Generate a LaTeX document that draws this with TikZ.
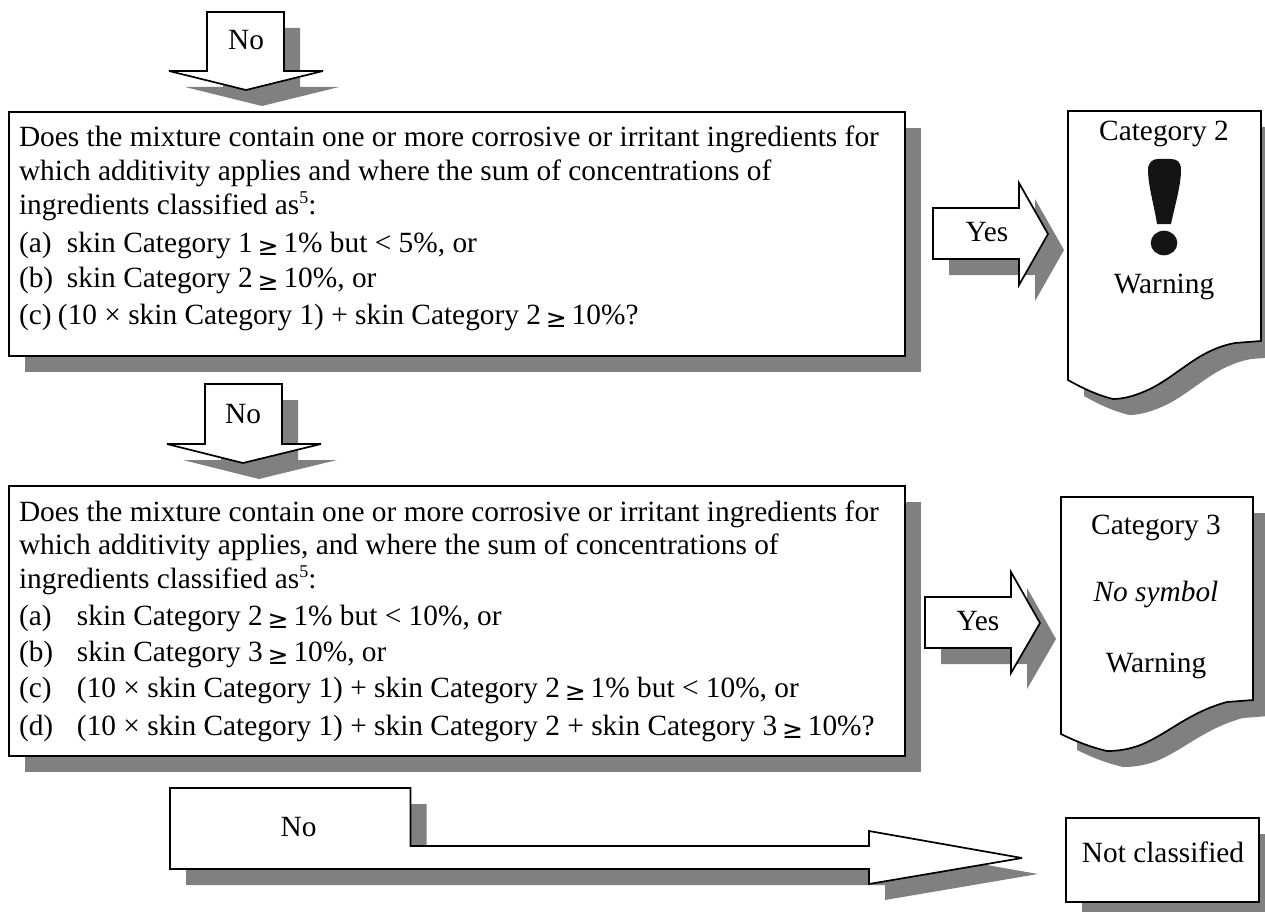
\documentclass[tikz,border=0pt]{standalone}
\usepackage{fontspec}
\setmainfont{Liberation Serif}
\newfontfamily\symfont{DejaVu Sans}
\definecolor{shadegray}{RGB}{128,128,128}
\definecolor{inkdark}{RGB}{20,20,20}
\newcommand{\castshape}[1]{\fill[castfill,shift={(16,16)}] #1; \filldraw[outlined] #1;}
\newcommand{\supfive}{\raisebox{10.5pt}{\fontsize{18pt}{18pt}\selectfont 5}}
\newcommand{\gesign}{\makebox[16pt]{\raisebox{-3pt}{\symfont\fontsize{25pt}{25pt}\selectfont ≥}}}
\tikzset{
  castfill/.style={fill=shadegray,draw=none},
  outlined/.style={draw=black,fill=white,line width=1.7pt,line join=miter,miter limit=4},
  lbl/.style={inner sep=0pt,outer sep=0pt,anchor=base,text=black,font=\fontsize{29.35pt}{29.35pt}\selectfont},
  linetext/.style={lbl,anchor=base west}
}
\begin{document}
\begin{tikzpicture}[x=1pt,y=-1pt]
\useasboundingbox (0,0) rectangle (1265,912);
\fill[white] (0,0) rectangle (1265,912);
% first No arrow
\castshape{(207,12) -- (284,12) -- (284,71) -- (323,71) -- (246,90) -- (169,71) -- (207,71) -- cycle}
\node[lbl] (no1) at (246,50) {No};
% box 1
\castshape{(9,112) rectangle (905,356)}
\node[linetext] (b1l1) at (19,147) {Does the mixture contain one or more corrosive or irritant ingredients for};
\node[linetext] (b1l2) at (19,181) {which additivity applies and where the sum of concentrations of};
\node[linetext] (b1l3) at (19,214) {ingredients classified as\supfive:};
\node[linetext] (b1l4) at (19,252) {\makebox[48pt][l]{(a)}skin Category 1 \gesign{} 1\% but < 5\%, or};
\node[linetext] (b1l5) at (19,287) {\makebox[48pt][l]{(b)}skin Category 2 \gesign{} 10\%, or};
\node[linetext] (b1l6) at (19,324) {\makebox[39pt][l]{(c)}(10 × skin Category 1) + skin Category 2 \gesign{} 10\%?};
% Yes arrow 1
\castshape{(933,208) -- (1019,208) -- (1019,183) -- (1048,234) -- (1019,285) -- (1019,259) -- (933,259) -- cycle}
\node[lbl] (yes1) at (987,241) {Yes};
% category 2 document
\castshape{(1068,111) -- (1261,111) -- (1261,341) -- (1235,343) .. controls (1198,350) and (1180,374) .. (1150,389) .. controls (1137,395) and (1125,399) .. (1113,399) .. controls (1097,395) and (1082,388) .. (1068,380) -- cycle}
\node[lbl] (cat2) at (1164,141) {Category 2};
\fill[inkdark] (1148,170) .. controls (1148,162) and (1153,159) .. (1158,159) -- (1171,159) .. controls (1177,159) and (1181,162) .. (1181,170) .. controls (1181,185) and (1175,205) .. (1171,224) -- (1157,224) .. controls (1154,205) and (1148,185) .. (1148,170) -- cycle;
\fill[inkdark] (1164,243) ellipse [x radius=13.3,y radius=12.3];
\node[lbl] (warn2) at (1164,293) {Warning};
% second No arrow
\castshape{(205,384) -- (282,384) -- (282,444) -- (321,444) -- (243,463) -- (167,444) -- (205,444) -- cycle}
\node[lbl] (no2) at (243,423) {No};
% box 2
\castshape{(9,486) rectangle (905,756)}
\node[linetext] (b2l1) at (19,521) {Does the mixture contain one or more corrosive or irritant ingredients for};
\node[linetext] (b2l2) at (19,554) {which additivity applies, and where the sum of concentrations of};
\node[linetext] (b2l3) at (19,588) {ingredients classified as\supfive:};
\node[linetext] (b2l4) at (19,625) {\makebox[58pt][l]{(a)}skin Category 2 \gesign{} 1\% but < 10\%, or};
\node[linetext] (b2l5) at (19,661) {\makebox[58pt][l]{(b)}skin Category 3 \gesign{} 10\%, or};
\node[linetext] (b2l6) at (19,697) {\makebox[58pt][l]{(c)}(10 × skin Category 1) + skin Category 2 \gesign{} 1\% but < 10\%, or};
\node[linetext] (b2l7) at (19,735) {\makebox[58pt][l]{(d)}(10 × skin Category 1) + skin Category 2 + skin Category 3 \gesign{} 10\%?};
% Yes arrow 2
\castshape{(925,597) -- (1011,597) -- (1011,572) -- (1040,623) -- (1011,673) -- (1011,648) -- (925,648) -- cycle}
\node[lbl] (yes2) at (978,630) {Yes};
% category 3 document
\castshape{(1061,497) -- (1253,497) -- (1253,700) -- (1227,702) .. controls (1190,712) and (1170,732) .. (1143,744) .. controls (1131,749) and (1119,751) .. (1107,751) .. controls (1090,747) and (1075,741) .. (1061,734) -- cycle}
\node[lbl] (cat3) at (1156,534) {Category 3};
\node[lbl] (nosym) at (1156,601) {\itshape No symbol};
\node[lbl] (warn3) at (1156,672) {Warning};
% long No arrow
\castshape{(170,788) -- (410.5,788) -- (410.5,846) -- (869,846) -- (869,831) -- (1022,858) -- (869,884) -- (869,869) -- (170,869) -- cycle}
\node[lbl] (no3) at (298.6,836) {No};
% not classified
\fill[castfill] (1082,834) rectangle (1265,912);
\filldraw[outlined] (1066,818) rectangle (1259,902);
\node[lbl] (nc) at (1163,862) {Not classified};
\end{tikzpicture}
\end{document}
